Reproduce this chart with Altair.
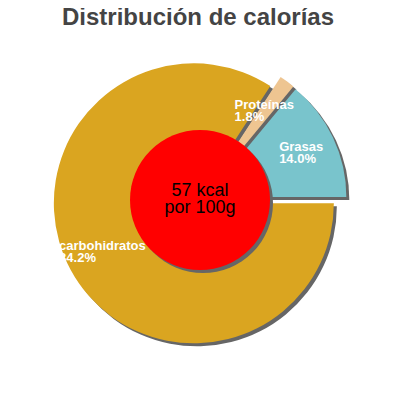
import math
import altair as alt
import pandas as pd

# ---- data ----
title_text = "Distribución de calorías"
categories = ["carbohidratos", "Proteínas", "Grasas"]
percents = [84.2, 1.8, 14.0]
colors = ["#DAA520", "#EEC591", "#79C4CC"]
center_lines = ["57 kcal", "por 100g"]

# ---- layout / style ----
W = H = 384
CX, CY = W / 2, H / 2
R = 140
EXPLODE = 7
LABEL_R = 103
SH = 3
START = math.pi / 2
FONT = "Liberation Sans"

df = pd.DataFrame({
    "name": categories,
    "value": percents,
    "order": list(range(len(categories))),
    "pct": [f"{v:.1f}%" for v in percents],
})

base = (
    alt.Chart(df)
    .transform_joinaggregate(total="sum(value)")
    .transform_window(cum="sum(value)", sort=[alt.SortField("order")], frame=[None, 0])
    .transform_calculate(
        t1=f"{START} + 2*PI*datum.cum/datum.total",
        t0=f"{START} + 2*PI*(datum.cum - datum.value)/datum.total",
    )
    .transform_calculate(mid="(datum.t0 + datum.t1)/2")
    .transform_calculate(
        cx=f"{CX} + {EXPLODE}*sin(datum.mid)",
        cy=f"{CY} - {EXPLODE}*cos(datum.mid)",
    )
    .transform_calculate(
        sx=f"datum.cx + {SH}",
        sy=f"datum.cy + {SH}",
        lx=f"datum.cx + {LABEL_R}*sin(datum.mid) - length(datum.name)*3.4",
        ly=f"datum.cy - {LABEL_R}*cos(datum.mid)",
        lab="datum.name + '\\n' + datum.pct",
    )
)

theta = alt.Theta("t0:Q", scale=None, stack=None)
theta2 = alt.Theta2("t1:Q")

shadows = base.mark_arc(radius=R, color="#666666").encode(
    x=alt.X("sx:Q", scale=None, axis=None),
    y=alt.Y("sy:Q", scale=None, axis=None),
    theta=theta, theta2=theta2,
)

slices = base.mark_arc(radius=R).encode(
    x=alt.X("cx:Q", scale=None, axis=None),
    y=alt.Y("cy:Q", scale=None, axis=None),
    theta=theta, theta2=theta2,
    color=alt.Color("name:N", scale=alt.Scale(domain=categories, range=colors), legend=None),
)

labels = base.mark_text(
    align="left", baseline="alphabetic", font=FONT, fontSize=13, fontWeight="bold",
    color="white", dy=-2, lineBreak="\n", lineHeight=12,
).encode(
    x=alt.X("lx:Q", scale=None, axis=None),
    y=alt.Y("ly:Q", scale=None, axis=None),
    text="lab:N",
)

cdf = pd.DataFrame({"line": center_lines, "i": list(range(len(center_lines)))})
cbase = alt.Chart(cdf)

circle_shadow = cbase.transform_filter("datum.i == 0").mark_arc(
    radius=70, theta=0, theta2=2 * math.pi, color="#666666"
).encode(x=alt.value(CX + SH), y=alt.value(CY + SH))

circle = cbase.transform_filter("datum.i == 0").mark_arc(
    radius=70, theta=0, theta2=2 * math.pi, color="#FF0000"
).encode(x=alt.value(CX), y=alt.value(CY))

center_text = cbase.transform_calculate(ty=f"{CY - 4} + datum.i*17").mark_text(
    align="center", baseline="alphabetic", font=FONT, fontSize=18, color="black"
).encode(
    x=alt.value(CX),
    y=alt.Y("ty:Q", scale=None, axis=None),
    text="line:N",
)

tdf = pd.DataFrame({"t": [title_text]})
title = alt.Chart(tdf).mark_text(
    align="center", baseline="alphabetic", font=FONT, fontSize=24, fontWeight="bold",
    color="#444444",
).encode(x=alt.value(CX - 2), y=alt.value(17), text="t:N")

chart = alt.layer(
    shadows, slices, circle_shadow, circle, labels, center_text, title
).properties(
    width=W, height=H, padding=0, autosize=alt.AutoSizeParams(type="none"),
    background="white",
).configure_view(stroke=None)

chart.save("out.html", embed_options={"renderer": "svg", "actions": False})
